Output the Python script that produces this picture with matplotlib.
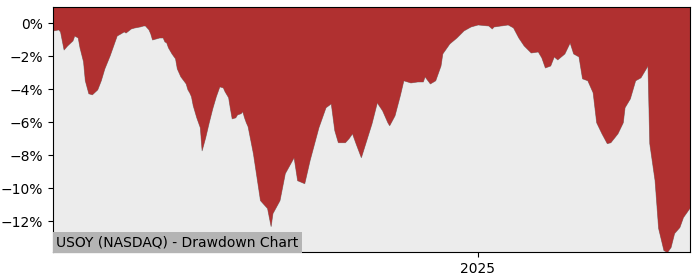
"""USOY drawdown chart"""

import matplotlib
matplotlib.use('Agg')
from matplotlib import pyplot as plt
from matplotlib import dates as mdates
from matplotlib import ticker
import numpy as np
import pandas as pd

##############
### inputs ###
##############

title = 'USOY (NASDAQ) - Drawdown Chart'
start_date = '2024-05-06'
# days since start_date
days = [0, 3, 4, 6, 8, 11, 12, 14, 15, 17, 18, 20, 22, 25, 27, 29, 32, 35, 36, 38,
        40, 41, 44, 46, 49, 51, 52, 54, 55, 56, 58, 60, 62, 63, 64, 65, 67, 69, 70, 72,
        75, 76, 77, 78, 79, 81, 83, 84, 86, 88, 90, 92, 94, 96, 97, 99, 100, 101, 103, 104,
        106, 107, 108, 109, 110, 113, 117, 121, 123, 124, 128, 131, 136, 138, 142, 145, 150, 154, 157, 159,
        161, 165, 167, 169, 171, 174, 177, 180, 183, 186, 189, 190, 193, 196, 198, 202, 206, 209, 210, 213,
        216, 219, 220, 224, 228, 232, 236, 240, 246, 248, 249, 257, 260, 263, 266, 270, 274, 276, 278, 281,
        283, 285, 289, 292, 294, 297, 299, 302, 305, 307, 310, 313, 315, 319, 322, 323, 326, 329, 332, 336,
        337, 340, 342, 345, 347, 349, 351, 354, 356, 360]
# drawdown in percent
drawdown = [-0.42, -0.36, -0.48, -1.58, -1.33, -1.03, -0.73, -0.85, -1.45, -2.30,
            -3.45, -4.24, -4.30, -4.00, -3.45, -2.73, -1.94, -1.03, -0.73, -0.61,
            -0.48, -0.55, -0.30, -0.24, -0.18, -0.12, -0.12, -0.36, -0.61, -0.97,
            -0.91, -0.85, -0.85, -1.09, -1.15, -1.45, -1.82, -2.12, -2.73, -3.21,
            -3.64, -4.00, -4.18, -4.42, -4.97, -5.70, -6.30, -7.70, -6.91, -6.00,
            -5.15, -4.42, -3.82, -3.88, -4.12, -4.48, -5.15, -5.76, -5.70, -5.52,
            -5.45, -5.33, -5.70, -6.00, -6.24, -7.88, -10.73, -11.21, -12.30, -11.52,
            -10.73, -9.09, -8.12, -9.52, -9.70, -8.30, -6.30, -5.09, -4.85, -6.48,
            -7.21, -7.21, -6.97, -6.67, -7.27, -8.12, -7.09, -6.06, -4.79, -5.27,
            -6.00, -6.18, -5.58, -4.36, -3.45, -3.58, -3.52, -3.52, -3.21, -3.64,
            -3.45, -2.55, -1.82, -1.21, -0.85, -0.42, -0.18, -0.06, -0.12, -0.30,
            -0.18, -0.06, -0.24, -0.85, -1.33, -1.76, -1.70, -2.06, -2.67, -2.55,
            -2.00, -2.18, -1.82, -1.15, -1.82, -2.00, -3.33, -3.45, -4.18, -6.00,
            -6.67, -7.27, -7.21, -6.67, -6.00, -5.09, -4.55, -3.45, -3.27, -2.55,
            -7.27, -9.52, -12.42, -13.76, -13.88, -13.58, -12.73, -12.36, -11.76, -11.15]

fill_color = '#b03030'
bg_color = '#ececec'

############
### MAIN ###
############

dates = pd.Timestamp(start_date) + pd.to_timedelta(days, unit='D')
dd = np.array(drawdown)
top = 1.0

fig = plt.figure(figsize=(7, 2.8), dpi=100)
ax = fig.add_axes([0.0757, 0.1, 0.91, 0.875])
ax.set_facecolor(bg_color)

ax.fill_between(dates, dd, top, color=fill_color, lw=0.6, edgecolor='#8a8a8a')
ax.fill_between(dates, dd, top, color=fill_color, lw=0)

ax.set_xlim(dates[0], dates[-1])
ax.set_ylim(dd.min(), top)
ax.set_yticks(np.arange(-12, 1, 2))
ax.yaxis.set_major_formatter(ticker.FuncFormatter(
    lambda v, p: '%d%%' % v if v >= 0 else '\u2212%d%%' % -v))
ax.xaxis.set_major_locator(mdates.YearLocator())
ax.xaxis.set_major_formatter(mdates.DateFormatter('%Y'))
ax.tick_params(labelsize=10)

ax.text(0.005, 0.012, title, transform=ax.transAxes, fontsize=10,
        ha='left', va='bottom', zorder=5,
        bbox=dict(facecolor='#b4b4b4', edgecolor='none', pad=2.5))

fig.savefig('out.png', dpi=100)
